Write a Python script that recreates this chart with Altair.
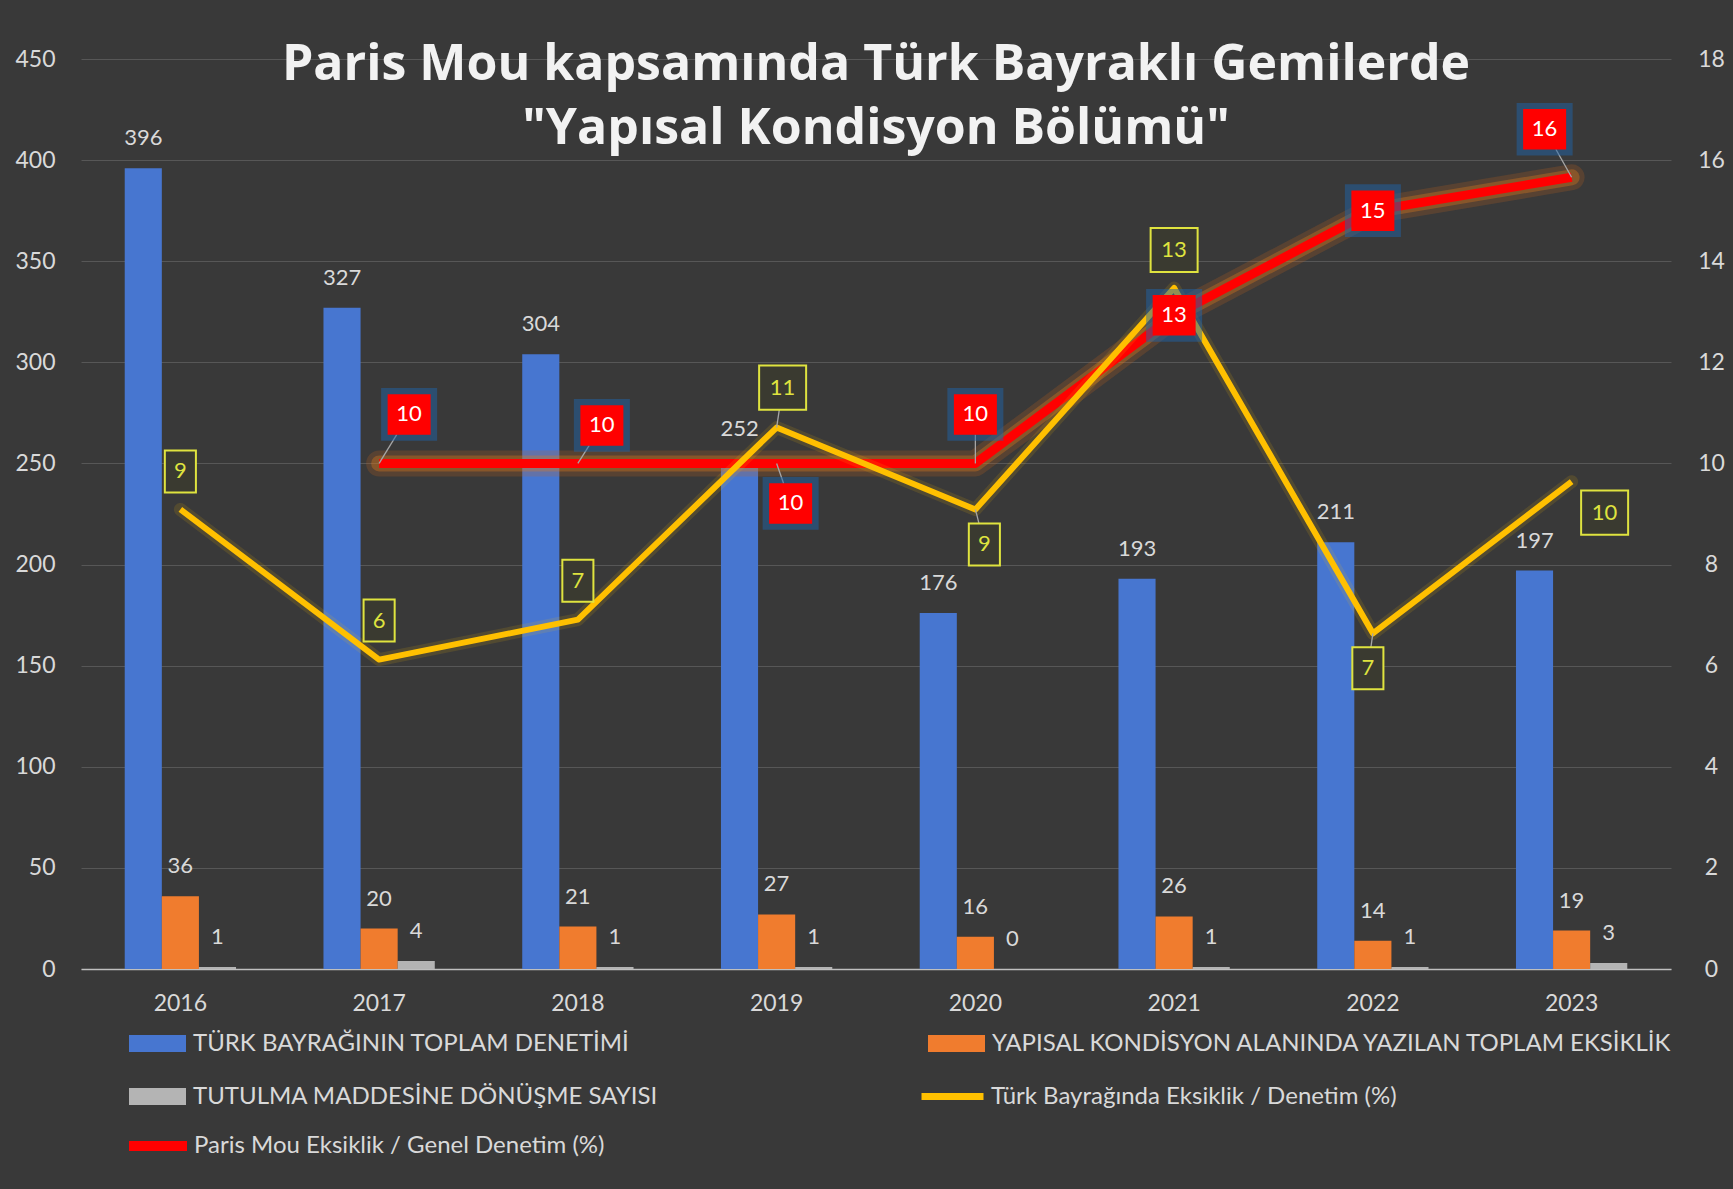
import altair as alt
import pandas as pd

# ---------------- data ----------------
YEARS = ["2016", "2017", "2018", "2019", "2020", "2021", "2022", "2023"]
TOTAL_INSPECTIONS = [396, 327, 304, 252, 176, 193, 211, 197]
STRUCT_DEFICIENCIES = [36, 20, 21, 27, 16, 26, 14, 19]
DETENTIONS = [1, 4, 1, 1, 0, 1, 1, 3]
TURK_RATIO = [9.09, 6.12, 6.91, 10.71, 9.09, 13.47, 6.64, 9.64]
PARIS_RATIO = [None, 10.0, 10.0, 10.0, 10.0, 12.93, 15.0, 15.66]

BAR_SERIES = [
    "TÜRK BAYRAĞININ TOPLAM DENETİMİ",
    "YAPISAL KONDİSYON ALANINDA YAZILAN TOPLAM EKSİKLİK",
    "TUTULMA MADDESİNE DÖNÜŞME SAYISI",
]
LINE_SERIES = [
    "Türk Bayrağında Eksiklik / Denetim (%)",
    "Paris Mou Eksiklik / Genel  Denetim (%)",
]
TITLE = ["Paris Mou kapsamında Türk Bayraklı Gemilerde", "\"Yapısal Kondisyon Bölümü\""]
LEFT_TICKS = [0, 50, 100, 150, 200, 250, 300, 350, 400, 450]
RIGHT_TICKS = [0, 2, 4, 6, 8, 10, 12, 14, 16, 18]

# ---------------- styling / layout ----------------
FONT = "Lato"
TXT = "#d9d9d9"
BG = "#393939"
BAR_COLORS = ["#4776d0", "#f07c2e", "#b4b4b4"]
YELLOW = "#ffc000"
RED = "#ff0000"
BOXYEL = "#dfe33f"
W, H = 1590, 910

# legend placement (relative to plot origin): (x, y)
BAR_LEGEND_POS = [(48, 956), (847, 956), (48, 1009)]
LINE_LEGEND_POS = [(837, 1003), (43, 1053)]

# data-label offsets in pixels (dx, dy)
RED_OFFSETS = {"2017": (30, -49), "2018": (24, -38), "2019": (14, 40), "2020": (0, -49),
               "2021": (0, 0), "2022": (0, 0), "2023": (-27, -48)}
YEL_OFFSETS = {"2016": (0, -38), "2017": (0, -39), "2018": (0, -39), "2019": (6, -40),
               "2020": (9, 35), "2021": (0, -38), "2022": (-5, 35), "2023": (33, 31)}
RED_LEADERS = ["2017", "2018", "2019", "2020", "2023"]
YEL_LEADERS = ["2019", "2020", "2022"]

# ---------------- tables ----------------
rows = []
for name, vals in zip(BAR_SERIES, [TOTAL_INSPECTIONS, STRUCT_DEFICIENCIES, DETENTIONS]):
    for yr, v in zip(YEARS, vals):
        rows.append({"year": yr, "series": name, "value": v})
df_bars = pd.DataFrame(rows)
df_lines = pd.DataFrame({"year": YEARS, "turk": TURK_RATIO, "paris": PARIS_RATIO,
                         "turk_name": LINE_SERIES[0], "paris_name": LINE_SERIES[1]})

# ---------------- encodings ----------------
XAXIS = alt.Axis(labelAngle=0, domain=True, domainColor="#bfbfbf", domainWidth=1.5,
                 ticks=False, labelFont=FONT, labelFontSize=23, labelColor=TXT,
                 labelPadding=23, title=None, grid=False)
x_enc = alt.X("year:N", sort=YEARS,
              scale=alt.Scale(paddingInner=0.44, paddingOuter=0.22), axis=XAXIS)
xo_enc = alt.XOffset("series:N", sort=BAR_SERIES,
                     scale=alt.Scale(domain=BAR_SERIES, paddingInner=0, paddingOuter=0))
LAXIS = alt.Axis(values=LEFT_TICKS, grid=True, gridColor="#575757", gridWidth=1,
                 domain=False, ticks=False, labelFont=FONT, labelFontSize=23,
                 labelColor=TXT, labelPadding=26, title=None)
ly = alt.Y("value:Q", scale=alt.Scale(domain=[0, 450], nice=False), axis=LAXIS)
RAXIS = alt.Axis(orient="right", values=RIGHT_TICKS, grid=False, domain=False, ticks=False,
                 labelFont=FONT, labelFontSize=23, labelColor=TXT, labelAlign="center",
                 labelPadding=40, title=None)
RSCALE = alt.Scale(domain=[0, 18], nice=False)


def ry(field):
    return alt.Y(f"{field}:Q", scale=RSCALE, axis=RAXIS)


def legend(pos, **kw):
    return alt.Legend(orient="none", legendX=pos[0], legendY=pos[1], title=None,
                      labelFont=FONT, labelFontSize=24, labelColor=TXT, labelLimit=1000,
                      padding=0, **kw)


RECT_SWATCH = "M-1,-0.3L1,-0.3L1,0.3L-1,0.3Z"

# ---------------- bars ----------------
bar_layers = []
for name, col, pos in zip(BAR_SERIES, BAR_COLORS, BAR_LEGEND_POS):
    bar_layers.append(
        alt.Chart(df_bars).transform_filter(alt.datum.series == name).mark_bar().encode(
            x=x_enc, xOffset=xo_enc, y=ly,
            color=alt.Color("series:N",
                            scale=alt.Scale(domain=[name], range=[col]),
                            legend=legend(pos, symbolType=RECT_SWATCH, symbolSize=57 * 57,
                                          symbolStrokeWidth=0, labelOffset=7)))
    )
bar_text = alt.Chart(df_bars).mark_text(dy=-30, font=FONT, fontSize=22, color=TXT,
                                        baseline="middle").encode(
    x=x_enc, xOffset=xo_enc, y=ly, text=alt.Text("value:Q"))
left = alt.layer(*bar_layers, bar_text).resolve_scale(color="independent")

# ---------------- lines ----------------
lines_base = alt.Chart(df_lines)
paris_base = lines_base.transform_filter("isValid(datum.paris)")

red_glow1 = paris_base.mark_line(strokeWidth=26, color="#c8641a", opacity=0.22,
                                 strokeJoin="round", strokeCap="round").encode(x=x_enc, y=ry("paris"))
red_glow2 = paris_base.mark_line(strokeWidth=16, color="#e07a1e", opacity=0.35,
                                 strokeJoin="round", strokeCap="round").encode(x=x_enc, y=ry("paris"))
red_line = paris_base.mark_line(strokeWidth=9, strokeJoin="round").encode(
    x=x_enc, y=ry("paris"),
    color=alt.Color("paris_name:N",
                    scale=alt.Scale(domain=[LINE_SERIES[1]], range=[RED]),
                    legend=legend(LINE_LEGEND_POS[1], symbolType="stroke", symbolSize=58 * 58,
                                  symbolStrokeWidth=10, labelOffset=2)))
yel_glow = lines_base.mark_line(strokeWidth=13, color=YELLOW, opacity=0.13,
                                strokeJoin="round", strokeCap="round").encode(x=x_enc, y=ry("turk"))
yel_line = lines_base.mark_line(strokeWidth=6, strokeJoin="round").encode(
    x=x_enc, y=ry("turk"),
    color=alt.Color("turk_name:N",
                    scale=alt.Scale(domain=[LINE_SERIES[0]], range=[YELLOW]),
                    legend=legend(LINE_LEGEND_POS[0], symbolType="stroke", symbolSize=62 * 62,
                                  symbolStrokeWidth=7, labelOffset=4)))


# ---------------- leader lines ----------------
def leader(base, field, dx, dy):
    ey = dy - (20 if dy > 0 else -20)
    ex = dx * ey / dy
    return base.mark_rule(color="#a6a6a6", strokeWidth=1.3, x2Offset=ex, y2Offset=ey).encode(
        x=x_enc, y=ry(field), x2=alt.X2("year"), y2=alt.Y2(field))


leader_layers = []
for yr in RED_LEADERS:
    dx, dy = RED_OFFSETS[yr]
    leader_layers.append(leader(paris_base.transform_filter(alt.datum.year == yr), "paris", dx, dy))
for yr in YEL_LEADERS:
    dx, dy = YEL_OFFSETS[yr]
    leader_layers.append(leader(lines_base.transform_filter(alt.datum.year == yr), "turk", dx, dy))

# ---------------- boxed data labels ----------------
label_layers = []
RED_BOX = "M-1,-0.94L1,-0.94L1,0.94L-1,0.94Z"
for yr, (dx, dy) in RED_OFFSETS.items():
    sub = paris_base.transform_filter(alt.datum.year == yr)
    label_layers.append(sub.mark_point(shape=RED_BOX, size=56 * 56, filled=True, fill="#1f63a8",
                                       opacity=0.5, strokeWidth=0, xOffset=dx, yOffset=dy)
                        .encode(x=x_enc, y=ry("paris")))
    label_layers.append(sub.mark_point(shape=RED_BOX, size=43 * 43, filled=True, fill=RED,
                                       opacity=1, strokeWidth=0, xOffset=dx, yOffset=dy)
                        .encode(x=x_enc, y=ry("paris")))
    label_layers.append(sub.mark_text(dx=dx, dy=dy, font=FONT, fontSize=22, color="white",
                                      baseline="middle")
                        .encode(x=x_enc, y=ry("paris"), text=alt.Text("paris:Q", format=".0f")))

for yr, (dx, dy) in YEL_OFFSETS.items():
    val = TURK_RATIO[YEARS.index(yr)]
    two = len(f"{val:.0f}") > 1
    shape = "M-1,-0.94L1,-0.94L1,0.94L-1,0.94Z" if two else "M-0.74,-1L0.74,-1L0.74,1L-0.74,1Z"
    size = 47 * 47 if two else 42 * 42
    sub = lines_base.transform_filter(alt.datum.year == yr)
    label_layers.append(sub.mark_point(shape=shape, size=size, filled=True, fill="#3a3a30",
                                       stroke=BOXYEL, strokeWidth=2, opacity=1,
                                       xOffset=dx, yOffset=dy)
                        .encode(x=x_enc, y=ry("turk")))
    label_layers.append(sub.mark_text(dx=dx, dy=dy, font=FONT, fontSize=22, color=BOXYEL,
                                      baseline="middle")
                        .encode(x=x_enc, y=ry("turk"), text=alt.Text("turk:Q", format=".0f")))

right = alt.layer(red_glow1, red_glow2, red_line, yel_glow, yel_line, *leader_layers,
                  *label_layers).resolve_scale(color="independent")

chart = alt.layer(left, right).resolve_scale(y="independent", color="independent").properties(
    width=W, height=H,
    title=alt.Title(text=TITLE, font="Open Sans", fontSize=50, fontWeight="bold", color="#f2f2f2",
                    lineHeight=64, offset=-106, anchor="middle"),
    padding={"left": 81, "top": 59, "right": 62, "bottom": 220},
    autosize=alt.AutoSizeParams(type="none"),
    background=BG,
).configure_view(stroke=None)

chart.save("out.html", embed_options={"renderer": "svg", "actions": False})
